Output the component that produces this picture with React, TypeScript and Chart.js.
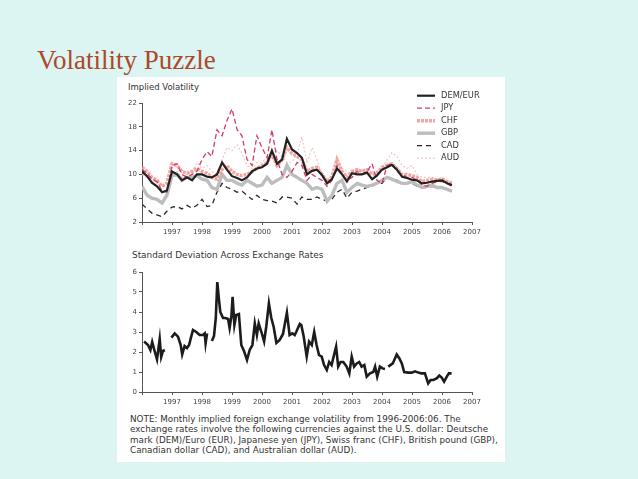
import React, { useEffect, useRef } from "react";
import { Chart, registerables } from "chart.js";

Chart.register(...registerables);

// ---------- data ----------
const topDates = [
  1996.0, 1996.17, 1996.33, 1996.5, 1996.67, 1996.83,
  1997.0, 1997.17, 1997.33, 1997.5, 1997.67, 1997.83,
  1998.0, 1998.17, 1998.33, 1998.5, 1998.67, 1998.83,
  1999.0, 1999.17, 1999.33, 1999.5, 1999.67, 1999.83,
  2000.0, 2000.17, 2000.33, 2000.5, 2000.67, 2000.83,
  2001.0, 2001.17, 2001.33, 2001.5, 2001.67, 2001.83,
  2002.0, 2002.17, 2002.33, 2002.5, 2002.67, 2002.83,
  2003.0, 2003.17, 2003.33, 2003.5, 2003.67, 2003.83,
  2004.0, 2004.17, 2004.33, 2004.5, 2004.67, 2004.83,
  2005.0, 2005.17, 2005.33, 2005.5, 2005.67, 2005.83,
  2006.0, 2006.17, 2006.33,
];

const demEur = [
  10.5, 9.7, 8.6, 8.0, 7.0, 7.3,
  10.5, 10.0, 9.0, 9.5, 9.0, 10.0,
  10.0, 9.6, 9.5, 10.0, 12.0, 10.8,
  9.7, 9.4, 9.0, 9.5, 10.5, 11.0,
  11.2, 11.8, 14.0, 11.8, 12.5, 16.0,
  14.2, 13.6, 12.8, 10.0, 10.6, 10.8,
  9.9, 8.5, 9.2, 11.0, 10.0, 8.8,
  10.2, 10.0, 10.0, 10.3, 9.2, 9.8,
  10.8, 11.2, 11.6, 10.8, 9.6, 9.4,
  9.1, 9.0, 8.5, 8.6, 8.8, 8.9,
  9.0, 8.5, 8.2,
];

const jpy = [
  10.8, 10.2, 9.2, 8.8, 7.2, 7.0,
  11.5, 11.8, 10.0, 9.5, 10.0, 10.5,
  12.5, 13.8, 13.0, 17.5, 16.5, 19.0,
  21.0, 17.5, 16.5, 12.5, 11.5, 16.5,
  14.5, 12.8, 17.5, 12.5, 10.0, 9.5,
  10.5, 12.0, 11.5, 9.0, 10.0, 9.5,
  9.0, 8.0, 9.0, 11.5, 10.0, 9.0,
  9.5, 10.5, 10.0, 10.5, 11.8, 9.0,
  8.5, 11.5, 11.8, 10.5, 10.0, 9.5,
  9.5, 9.0, 8.2, 8.0, 8.5, 8.8,
  8.8, 8.5, 8.0,
];

const chf = [
  11.2, 10.5, 9.5, 9.0, 8.0, 8.5,
  11.8, 11.5, 10.5, 10.2, 10.5, 11.0,
  10.5, 10.2, 9.5, 9.2, 10.8, 11.5,
  10.5, 10.0, 9.8, 10.0, 10.5, 11.0,
  11.5, 12.0, 13.5, 11.5, 12.5, 14.5,
  13.5, 13.0, 12.5, 10.5, 11.0, 11.2,
  10.0, 8.8, 9.5, 12.5, 10.5, 9.5,
  10.5, 10.8, 10.5, 10.8, 10.0, 10.2,
  11.2, 11.5, 11.8, 11.0, 10.0, 10.0,
  9.8, 9.5, 8.8, 9.0, 9.2, 9.0,
  9.2, 8.8, 8.5,
];

const gbp = [
  8.0, 6.5, 6.0, 5.8, 5.2, 6.5,
  9.8, 10.0, 9.0, 9.5, 9.5, 9.8,
  9.2, 9.0, 7.8, 7.5, 10.0, 9.0,
  9.0, 8.5, 8.2, 9.0, 8.5, 8.0,
  8.2, 9.5, 8.5, 9.0, 9.5, 11.5,
  10.0, 9.5, 9.0, 8.5, 7.5, 7.8,
  7.5, 5.5, 6.5, 8.5, 9.0, 7.0,
  7.8, 8.5, 8.2, 8.0, 8.2, 8.5,
  9.0, 9.5, 9.2, 8.8, 8.5, 8.5,
  8.8, 8.2, 7.8, 8.0, 8.2, 7.8,
  7.8, 7.5, 7.2,
];

const cad = [
  5.0, 4.2, 3.5, 3.2, 2.9, 3.8,
  4.5, 4.6, 4.2, 4.8, 4.3, 4.8,
  5.8, 4.6, 4.8, 7.0, 8.5, 7.8,
  7.5, 7.0, 7.2, 6.5, 5.8, 6.5,
  5.8, 5.6, 5.5, 5.2, 6.2, 6.2,
  6.0, 5.0, 6.2, 5.8, 5.8, 6.2,
  5.8, 5.5, 5.8, 7.0, 7.5, 6.0,
  7.0, 7.2, 7.5, 7.8, 8.0, 8.5,
  8.5, 9.5, 9.3, 9.0, 8.5, 8.5,
  8.5, 8.0, 7.8, 7.8, 8.0, 7.8,
  7.8, 7.5, 7.2,
];

const aud = [
  10.0, 9.5, 9.0, 8.5, 8.0, 8.5,
  10.0, 10.5, 9.5, 10.0, 10.5, 12.0,
  11.0, 11.5, 10.5, 10.0, 12.5, 14.5,
  14.0, 15.0, 13.5, 11.5, 11.0, 12.0,
  12.0, 13.0, 12.5, 14.0, 13.0, 12.0,
  12.0, 13.5, 16.3, 12.0, 14.5, 12.5,
  10.0, 9.0, 10.0, 12.0, 11.0, 10.5,
  10.0, 10.8, 10.5, 11.0, 10.5, 10.5,
  11.0, 12.5, 13.7, 13.0, 11.5, 11.0,
  11.5, 10.0, 9.5, 9.5, 9.5, 9.2,
  9.5, 9.0, 8.8,
];

const sdDates = [
  1996.07, 1996.2, 1996.28, 1996.34, 1996.42, 1996.5, 1996.59, 1996.64, 1996.7, 1996.76,
  1996.87,
  1996.98, 1997.09, 1997.2, 1997.29, 1997.34, 1997.42, 1997.5, 1997.57, 1997.64, 1997.7,
  1997.81, 1997.92, 1998.03, 1998.09, 1998.12, 1998.17,
  1998.25,
  1998.33, 1998.4, 1998.46, 1998.51, 1998.56, 1998.61, 1998.7, 1998.78, 1998.87, 1998.92,
  1998.98, 1999.02, 1999.08, 1999.14, 1999.23, 1999.31, 1999.4, 1999.5, 1999.59, 1999.68,
  1999.76, 1999.83, 1999.89, 1999.98, 2000.07, 2000.14, 2000.23, 2000.31, 2000.39, 2000.48,
  2000.59, 2000.7, 2000.83, 2000.92, 2001.01, 2001.09, 2001.14, 2001.26, 2001.31, 2001.39,
  2001.49, 2001.57, 2001.66, 2001.74, 2001.82, 2001.9, 2001.99, 2002.07, 2002.16, 2002.24,
  2002.32, 2002.4, 2002.47, 2002.54, 2002.62, 2002.71, 2002.82, 2002.91, 2002.99, 2003.07,
  2003.16, 2003.24, 2003.32, 2003.41, 2003.49, 2003.6, 2003.71, 2003.77, 2003.84, 2003.93,
  2004.02, 2004.1,
  2004.15,
  2004.21, 2004.36, 2004.49, 2004.58, 2004.66, 2004.74, 2004.88, 2004.99, 2005.1, 2005.21,
  2005.32, 2005.43, 2005.54, 2005.62, 2005.71, 2005.82, 2005.91, 2005.99, 2006.07, 2006.16,
  2006.23, 2006.32,
];

const sdValues = [
  2.52, 2.35, 2.1, 2.5, 2.05, 1.63, 2.65, 1.75, 2.05, 2.1,
  null,
  2.72, 2.93, 2.77, 2.35, 1.88, 2.3, 2.2, 2.35, 2.77, 3.1,
  3.0, 2.85, 2.85, 2.93, 2.43, 2.93,
  null,
  2.55, 2.8, 3.7, 5.5, 4.7, 4.0, 3.7, 3.7, 3.65, 3.2,
  3.8, 4.76, 3.35, 3.85, 3.9, 2.35, 2.05, 1.6, 2.1, 2.35,
  3.43, 2.85, 3.43, 3.0, 2.52, 3.25, 4.43, 3.7, 3.25, 2.45,
  2.6, 2.9, 3.97, 2.85, 2.93, 2.85, 3.0, 3.4, 3.35, 2.77,
  1.77, 2.52, 2.35, 3.0, 2.35, 1.85, 1.77, 1.35, 1.1, 1.5,
  1.35, 1.85, 2.27, 1.27, 1.5, 1.5, 1.27, 0.93, 1.77, 1.27,
  1.43, 1.5, 1.27, 1.35, 0.77, 0.93, 1.0, 1.27, 0.77, 1.27,
  1.18, 1.15,
  null,
  1.27, 1.43, 1.88, 1.68, 1.43, 1.0, 0.97, 0.97, 1.03, 0.97,
  0.93, 0.93, 0.43, 0.6, 0.6, 0.68, 0.82, 0.72, 0.52, 0.77,
  0.93, 0.93,
];

const xTickYears = [1997, 1998, 1999, 2000, 2001, 2002, 2003, 2004, 2005, 2006, 2007];
const topYTicks = [2, 6, 10, 14, 18, 22];
const bottomYTicks = [0, 1, 2, 3, 4, 5, 6];

const noteLines = [
  "NOTE: Monthly implied foreign exchange volatility from 1996-2006:06. The",
  "exchange rates involve the following currencies against the U.S. dollar: Deutsche",
  "mark (DEM)/Euro (EUR), Japanese yen (JPY), Swiss franc (CHF), British pound (GBP),",
  "Canadian dollar (CAD), and Australian dollar (AUD).",
];

// ---------- helpers ----------
const FONT = '"DejaVu Sans", "Liberation Sans", sans-serif';
const AXIS = "#555";

function xScale() {
  return {
    type: "linear" as const,
    min: 1996,
    max: 2007,
    ticks: {
      stepSize: 1,
      autoSkip: false,
      maxRotation: 0,
      padding: 3,
      color: "#444",
      font: { family: FONT, size: 7 },
      callback: (v: any) => (xTickYears.includes(Number(v)) ? String(v) : ""),
    },
    grid: { display: true, drawOnChartArea: false, drawTicks: true, tickLength: 3, color: AXIS },
    border: { display: true, color: AXIS, width: 1 },
    afterFit: (s: any) => {
      s.height = 18;
    },
  };
}

function yScale(ticksArr: number[]) {
  return {
    type: "linear" as const,
    min: ticksArr[0],
    max: ticksArr[ticksArr.length - 1],
    afterBuildTicks: (s: any) => {
      s.ticks = ticksArr.map((v) => ({ value: v }));
    },
    ticks: {
      padding: 2,
      color: "#444",
      font: { family: FONT, size: 7 },
    },
    grid: { display: true, drawOnChartArea: false, drawTicks: true, tickLength: 3, color: AXIS },
    border: { display: true, color: AXIS, width: 1 },
    afterFit: (s: any) => {
      s.width = 25;
    },
  };
}

const cornerLegend = {
  id: "cornerLegend",
  afterDraw(chart: any) {
    const ctx = chart.ctx;
    ctx.save();
    chart.data.datasets.forEach((ds: any, i: number) => {
      const y = 15.7 + i * 12.5;
      ctx.beginPath();
      ctx.strokeStyle = ds.borderColor;
      ctx.lineWidth = ds.borderWidth;
      ctx.setLineDash(ds.borderDash || []);
      ctx.moveTo(300, y);
      ctx.lineTo(318, y);
      ctx.stroke();
      ctx.setLineDash([]);
      ctx.fillStyle = "#333";
      ctx.font = `8.3px ${FONT}`;
      ctx.textBaseline = "middle";
      ctx.textAlign = "left";
      ctx.fillText(ds.label, 324, y);
    });
    ctx.restore();
  },
};

function toXY(xs: number[], ys: (number | null)[]) {
  return xs.map((x, i) => ({ x, y: ys[i] }));
}

function TopChart() {
  const ref = useRef<HTMLCanvasElement | null>(null);
  useEffect(() => {
    if (!ref.current) return;
    const mk = (label: string, vals: number[], color: string, width: number, dash: number[]) => ({
      label,
      data: toXY(topDates, vals),
      borderColor: color,
      backgroundColor: color,
      borderWidth: width,
      borderDash: dash,
      pointRadius: 0,
      tension: 0,
      fill: false,
    });
    const chart = new Chart(ref.current, {
      type: "line",
      data: {
        datasets: [
          mk("DEM/EUR", demEur, "#222222", 2.2, []),
          mk("JPY", jpy, "#d23c64", 1.3, [5, 3]),
          mk("CHF", chf, "rgba(240,150,145,0.85)", 3.4, [3, 1]),
          mk("GBP", gbp, "#bdbdbd", 3.4, []),
          mk("CAD", cad, "#2a2a2a", 1.3, [5, 4]),
          mk("AUD", aud, "#f5c3c3", 1.2, [2, 2]),
        ],
      },
      options: {
        responsive: false,
        animation: false,
        layout: { padding: { top: 23, right: 33, left: 0, bottom: 0 } },
        plugins: { legend: { display: false }, tooltip: { enabled: false } },
        scales: { x: xScale(), y: yScale(topYTicks) },
      } as any,
      plugins: [cornerLegend],
    });
    return () => chart.destroy();
  }, []);
  return <canvas ref={ref} width={388} height={160} style={{ position: "absolute", left: 117, top: 80, width: 388, height: 160 }} />;
}

function BottomChart() {
  const ref = useRef<HTMLCanvasElement | null>(null);
  useEffect(() => {
    if (!ref.current) return;
    const chart = new Chart(ref.current, {
      type: "line",
      data: {
        datasets: [
          {
            label: "Standard Deviation Across Exchange Rates",
            data: toXY(sdDates, sdValues),
            borderColor: "#1c1c1c",
            borderWidth: 2.6,
            pointRadius: 0,
            tension: 0,
            spanGaps: false,
            fill: false,
          },
        ],
      },
      options: {
        responsive: false,
        animation: false,
        layout: { padding: { top: 10, right: 33, left: 0, bottom: 0 } },
        plugins: { legend: { display: false }, tooltip: { enabled: false } },
        scales: { x: xScale(), y: yScale(bottomYTicks) },
      } as any,
    });
    return () => chart.destroy();
  }, []);
  return <canvas ref={ref} width={388} height={148} style={{ position: "absolute", left: 117, top: 262, width: 388, height: 148 }} />;
}

export default function App() {
  return (
    <div style={{ position: "absolute", left: 0, top: 0, width: 638, height: 479, background: "#dcf5f2", overflow: "hidden" }}>
      <div
        style={{
          position: "absolute",
          left: 37,
          top: 47,
          fontFamily: '"Liberation Serif", "DejaVu Serif", serif',
          fontSize: 27,
          lineHeight: "27px",
          color: "#ad4828",
          whiteSpace: "nowrap",
        }}
      >
        Volatility Puzzle
      </div>
      <div style={{ position: "absolute", left: 117, top: 77, width: 388, height: 385, background: "#ffffff" }} />
      <div style={{ position: "absolute", left: 128, top: 82, fontFamily: FONT, fontSize: 8.5, lineHeight: "10px", color: "#333", whiteSpace: "nowrap" }}>
        Implied Volatility
      </div>
      <TopChart />
      <div style={{ position: "absolute", left: 132, top: 250, fontFamily: FONT, fontSize: 8.9, lineHeight: "10px", color: "#333", whiteSpace: "nowrap" }}>
        Standard Deviation Across Exchange Rates
      </div>
      <BottomChart />
      <div style={{ position: "absolute", left: 130, top: 414, fontFamily: FONT, fontSize: 8.8, lineHeight: "10.4px", color: "#333", whiteSpace: "nowrap" }}>
        {noteLines.map((l, i) => (
          <div key={i}>{l}</div>
        ))}
      </div>
    </div>
  );
}
